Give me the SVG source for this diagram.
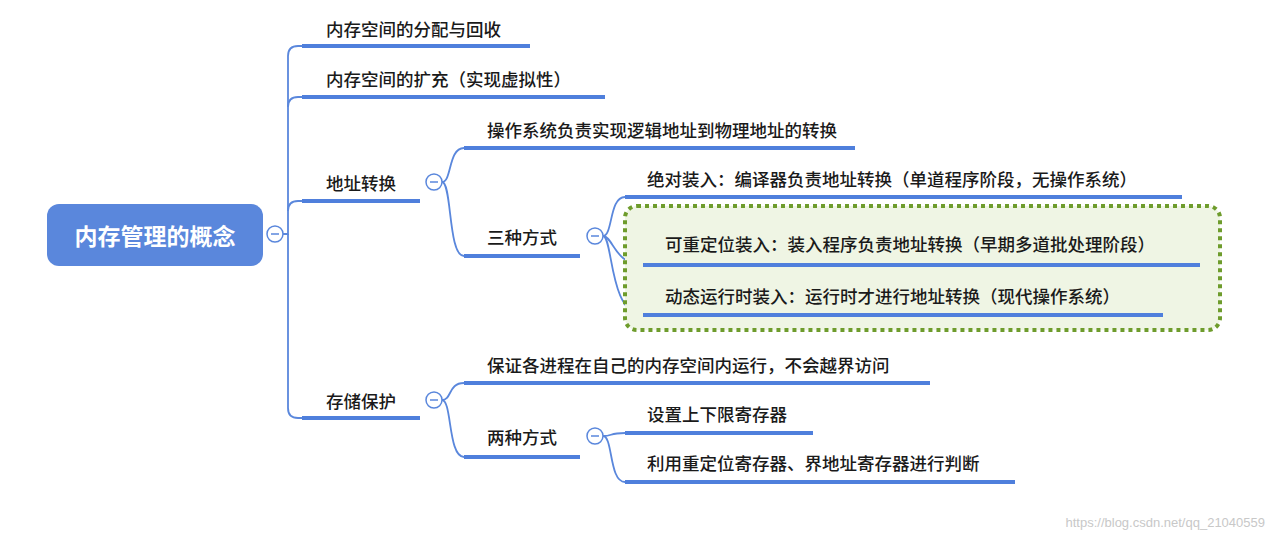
<svg xmlns="http://www.w3.org/2000/svg" width="1274" height="540" viewBox="0 0 1274 540">
<style>
.t{font-family:"Noto Sans CJK SC","Noto Sans",sans-serif;font-size:17.5px;font-weight:500;fill:#1a1a1a}
.u{stroke:#4f7fdc;stroke-width:4;fill:none}
.c{stroke:#5a87dc;stroke-width:1.8;fill:none}
.k circle{fill:#fff;stroke:#5a87dc;stroke-width:1.5}
.k line{stroke:#5a87dc;stroke-width:1.5}
</style>
<rect width="1274" height="540" fill="#fff"/>
<g id="connectors">
<path class="c" d="M283 234H288V56Q288 46 298 46H302"/>
<path class="c" d="M288 107Q288 97 298 97H302"/>
<path class="c" d="M288 211Q288 201 298 201H302"/>
<path class="c" d="M288 234V408Q288 418 298 418H302"/>
<path class="c" d="M442 182C452 182 448 148 464 148"/>
<path class="c" d="M442 182C452 182 448 256 464 256"/>
<path class="c" d="M603 236C613 236 609 197 625 197"/>
<path class="c" d="M603 236C613 236 615 265 643 265"/>
<path class="c" d="M603 236C613 236 609 315 643 315"/>
<path class="c" d="M442 400C452 400 448 383 464 383"/>
<path class="c" d="M442 400C452 400 448 457 464 457"/>
<path class="c" d="M603 436C613 436 609 433 625 433"/>
<path class="c" d="M603 436C613 436 609 482 625 482"/>
</g>
<rect x="625" y="206" width="595" height="124" rx="12" fill="#eff5e4" stroke="#6e9c2c" stroke-width="4" stroke-dasharray="4 4"/>
<g id="root">
<rect x="47" y="204" width="216" height="62" rx="12" fill="#5a87dc"/>
<text x="155" y="245" text-anchor="middle" font-family="Noto Sans CJK SC,sans-serif" font-size="23" font-weight="bold" fill="#fff">内存管理的概念</text>
<g class="k"><circle cx="275" cy="234" r="8"/><line x1="271" y1="234" x2="279" y2="234"/></g>
</g>
<g id="n1"><text class="t" x="326" y="36">内存空间的分配与回收</text><line class="u" x1="302" y1="46" x2="530" y2="46"/></g>
<g id="n2"><text class="t" x="326" y="86">内存空间的扩充（实现虚拟性）</text><line class="u" x1="302" y1="97" x2="605" y2="97"/></g>
<g id="n3"><text class="t" x="326" y="190">地址转换</text><line class="u" x1="302" y1="201" x2="420" y2="201"/>
<g class="k"><circle cx="434" cy="182" r="8"/><line x1="430" y1="182" x2="438" y2="182"/></g></g>
<g id="n4"><text class="t" x="326" y="408">存储保护</text><line class="u" x1="302" y1="418" x2="420" y2="418"/>
<g class="k"><circle cx="434" cy="400" r="8"/><line x1="430" y1="400" x2="438" y2="400"/></g></g>
<g id="n31"><text class="t" x="487" y="137">操作系统负责实现逻辑地址到物理地址的转换</text><line class="u" x1="464" y1="148" x2="855" y2="148"/></g>
<g id="n32"><text class="t" x="487" y="244">三种方式</text><line class="u" x1="464" y1="256" x2="580" y2="256"/>
<g class="k"><circle cx="595" cy="236" r="8"/><line x1="591" y1="236" x2="599" y2="236"/></g></g>
<g id="n321"><text class="t" x="647" y="186">绝对装入：编译器负责地址转换（单道程序阶段，无操作系统）</text><line class="u" x1="625" y1="197" x2="1182" y2="197"/></g>
<g id="n322"><text class="t" x="665" y="251">可重定位装入：装入程序负责地址转换（早期多道批处理阶段）</text><line class="u" x1="643" y1="265" x2="1200" y2="265"/></g>
<g id="n323"><text class="t" x="665" y="303">动态运行时装入：运行时才进行地址转换（现代操作系统）</text><line class="u" x1="643" y1="315" x2="1163" y2="315"/></g>
<g id="n41"><text class="t" x="487" y="372">保证各进程在自己的内存空间内运行，不会越界访问</text><line class="u" x1="464" y1="383" x2="930" y2="383"/></g>
<g id="n42"><text class="t" x="487" y="444">两种方式</text><line class="u" x1="464" y1="457" x2="580" y2="457"/>
<g class="k"><circle cx="595" cy="436" r="8"/><line x1="591" y1="436" x2="599" y2="436"/></g></g>
<g id="n421"><text class="t" x="647" y="421">设置上下限寄存器</text><line class="u" x1="625" y1="433" x2="813" y2="433"/></g>
<g id="n422"><text class="t" x="647" y="470">利用重定位寄存器、界地址寄存器进行判断</text><line class="u" x1="625" y1="482" x2="1015" y2="482"/></g>
<text x="1265" y="527" text-anchor="end" font-family="Liberation Sans,sans-serif" font-size="13" fill="#c8c8c8">https://blog.csdn.net/qq_21040559</text>
</svg>
